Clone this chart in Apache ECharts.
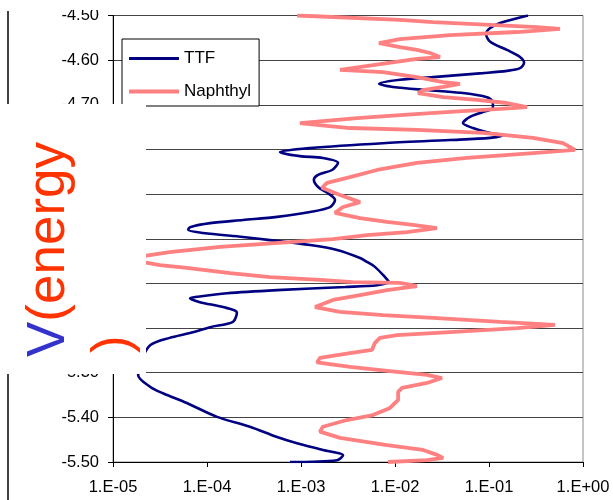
<!DOCTYPE html>
<html><head><meta charset="utf-8">
<script src="https://cdn.jsdelivr.net/npm/echarts@6/dist/echarts.min.js"></script>
<style>html,body{margin:0;padding:0;background:#fff}#c{width:613px;height:500px}</style>
</head><body><div id="c"></div>
<script>
// Energy levels (V) and values for each series
const ttfEnergy = [-4.500,-4.517,-4.528,-4.541,-4.559,-4.577,-4.593,-4.606,-4.618,-4.624,-4.629,-4.638,-4.644,-4.653,-4.660,-4.667,-4.673,-4.683,-4.694,-4.707,-4.716,-4.727,-4.741,-4.752,-4.763,-4.768,-4.774,-4.779,-4.786,-4.797,-4.806,-4.815,-4.819,-4.830,-4.846,-4.857,-4.868,-4.884,-4.898,-4.913,-4.929,-4.940,-4.951,-4.958,-4.965,-4.974,-4.980,-4.987,-4.996,-5.003,-5.014,-5.025,-5.043,-5.052,-5.063,-5.086,-5.097,-5.104,-5.108,-5.115,-5.122,-5.130,-5.133,-5.142,-5.153,-5.165,-5.186,-5.198,-5.211,-5.222,-5.238,-5.272,-5.305,-5.332,-5.346,-5.368,-5.399,-5.421,-5.444,-5.458,-5.473,-5.485,-5.496,-5.500];
const ttfValue = [0.26,0.131,0.103,0.093,0.103,0.155,0.214,0.236,0.214,0.155,0.086,0.0254,0.0113,0.00676,0.00953,0.0219,0.0491,0.0953,0.110,0.110,0.086,0.0628,0.0528,0.0676,0.103,0.141,0.103,0.0385,0.00745,0.00125,0.000598,0.000975,0.00171,0.00248,0.00214,0.00152,0.00137,0.00152,0.00194,0.0023,0.00204,0.00125,0.000556,0.000242,0.000108,0.000066,0.000063,0.000091,0.000242,0.000468,0.00125,0.00242,0.00425,0.00504,0.00612,0.00783,0.00863,0.00644,0.00294,0.000556,0.000163,0.000078,0.000066,0.000084,0.000148,0.000208,0.000189,0.000108,0.000066,0.00004,0.000025,0.00002,0.0000185,0.000025,0.000034,0.000061,0.000128,0.000286,0.000556,0.000906,0.00171,0.0028,0.00242,0.000764];
const naphEnergy = [-4.500,-4.510,-4.515,-4.521,-4.526,-4.530,-4.537,-4.544,-4.553,-4.562,-4.571,-4.577,-4.584,-4.593,-4.597,-4.622,-4.627,-4.638,-4.649,-4.653,-4.660,-4.667,-4.674,-4.683,-4.689,-4.696,-4.705,-4.709,-4.716,-4.723,-4.730,-4.741,-4.747,-4.752,-4.756,-4.763,-4.774,-4.786,-4.801,-4.808,-4.819,-4.830,-4.846,-4.862,-4.875,-4.886,-4.902,-4.918,-4.929,-4.942,-4.954,-4.962,-4.969,-4.976,-4.985,-4.992,-5.001,-5.007,-5.018,-5.030,-5.045,-5.059,-5.065,-5.077,-5.086,-5.092,-5.097,-5.099,-5.106,-5.115,-5.126,-5.137,-5.153,-5.164,-5.171,-5.177,-5.186,-5.193,-5.200,-5.209,-5.216,-5.222,-5.233,-5.249,-5.256,-5.267,-5.277,-5.287,-5.298,-5.305,-5.312,-5.323,-5.334,-5.343,-5.361,-5.379,-5.395,-5.406,-5.421,-5.432,-5.446,-5.462,-5.473,-5.484,-5.491,-5.496,-5.500];
const naphValue = [0.00091,0.0113,0.0254,0.103,0.324,0.569,0.199,0.0385,0.0113,0.00676,0.0113,0.0171,0.0236,0.0301,0.0171,0.0026,0.00745,0.0171,0.0325,0.0491,0.0325,0.0199,0.0176,0.0325,0.0745,0.155,0.254,0.131,0.0385,0.0113,0.00395,0.000975,0.00189,0.00332,0.0171,0.086,0.294,0.612,0.822,0.294,0.0583,0.0171,0.00644,0.00332,0.00189,0.00167,0.0026,0.00425,0.0028,0.0023,0.00425,0.00822,0.0155,0.028,0.0134,0.00504,0.00219,0.000822,0.000138,0.00004,0.0000134,0.0000316,0.000061,0.000176,0.000468,0.00159,0.00357,0.0113,0.0171,0.00822,0.00425,0.00219,0.00141,0.0026,0.00745,0.0254,0.131,0.504,0.199,0.0385,0.0105,0.00692,0.00612,0.00569,0.00332,0.00159,0.00148,0.00332,0.0105,0.0219,0.0316,0.0219,0.0119,0.0108,0.0108,0.00885,0.00583,0.00308,0.00171,0.00159,0.0026,0.00822,0.0199,0.028,0.0325,0.0219,0.00844];
const seriesNames = ['TTF','Naphthyl'];
const yMin = -5.5, yMax = -4.5, yStep = 0.1;
const xMin = 1e-5, xMax = 1;

const FONT = 'Liberation Sans, Arial, sans-serif';
const chart = echarts.init(document.getElementById('c'));
function fmtX(v){
  const e = Math.round(Math.log10(v));
  return '1.E' + (e < 0 ? '-' : '+') + String(Math.abs(e)).padStart(2,'0');
}
chart.setOption({
  animation:false,
  backgroundColor:'#fff',
  grid:{left:113, top:15.5, right:30, bottom:38, show:true, borderColor:'#8c8c8c', borderWidth:1, backgroundColor:'transparent'},
  legend:{orient:'vertical', left:122, top:39, backgroundColor:'#fff', borderColor:'#000', borderWidth:1,
    padding:[11,8,6,5], itemWidth:50, itemHeight:14, itemGap:16,
    itemStyle:{opacity:0},
    textStyle:{fontSize:17, color:'#000', fontFamily:FONT},
    data:[{name:seriesNames[0], lineStyle:{width:3}}, {name:seriesNames[1], lineStyle:{width:4}}]},
  xAxis:{type:'log', logBase:10, min:xMin, max:xMax, splitNumber:5,
    axisLine:{show:true, lineStyle:{color:'#000', width:1}},
    axisTick:{show:true, inside:false, length:5, lineStyle:{color:'#000'}},
    axisLabel:{formatter:fmtX, color:'#000', fontSize:16.5, fontFamily:FONT, margin:17},
    splitLine:{show:false}, minorTick:{show:false}},
  yAxis:{type:'value', min:yMin, max:yMax, interval:yStep,
    axisLine:{show:true, onZero:false, lineStyle:{color:'#000', width:1}},
    axisTick:{show:true, inside:false, length:5, lineStyle:{color:'#000'}},
    axisLabel:{formatter:v=>v.toFixed(2), color:'#000', fontSize:16.5, fontFamily:FONT, margin:14},
    splitLine:{show:true, lineStyle:{color:'#444', width:1}}},
  series:[
    {name:seriesNames[0], type:'line', symbol:'none', smooth:0.3, clip:true,
      data: ttfValue.map((v,i)=>[v, ttfEnergy[i]]),
      lineStyle:{color:'#000080', width:2.6}, itemStyle:{color:'#000080'}},
    {name:seriesNames[1], type:'line', symbol:'none', smooth:false, clip:true,
      data: naphValue.map((v,i)=>[v, naphEnergy[i]]),
      lineStyle:{color:'#FF8080', width:3.8}, itemStyle:{color:'#FF8080'}}
  ],
  graphic:[
    {type:'line', z:50, shape:{x1:8, y1:11, x2:8, y2:500}, style:{stroke:'#000', lineWidth:1.5}},
    {type:'rect', z:100, shape:{x:0, y:0, width:112, height:10}, style:{fill:'#fff'}},
    {type:'rect', z:100, shape:{x:0, y:104, width:146, height:270}, style:{fill:'#fff'}},
    {type:'text', z:101, x:49, y:357, rotation:Math.PI/2,
      style:{text:'{v|V}{e|(energy}', align:'left', verticalAlign:'middle',
        rich:{v:{fill:'#3333CC', fontSize:53, fontFamily:FONT}, e:{fill:'#FF3300', fontSize:53, fontFamily:FONT}}}},
    {type:'text', z:101, x:114, y:353, rotation:Math.PI/2,
      style:{text:')', align:'left', verticalAlign:'middle', fill:'#FF3300', fontSize:53, fontFamily:FONT}}
  ]
});
</script></body></html>
